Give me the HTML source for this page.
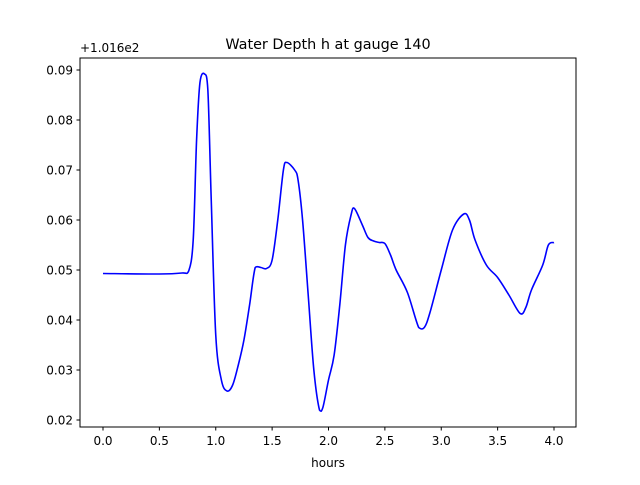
<!DOCTYPE html>
<html><head><meta charset="utf-8"><style>
body{margin:0;background:#fff;}
svg{font-family:"DejaVu Sans","Liberation Sans",sans-serif;}
</style></head><body>
<svg id="chart" width="640" height="480" viewBox="0 0 640 480">
<rect width="640" height="480" fill="#fff"/>
<text x="328" y="49" font-size="14.4" text-anchor="middle">Water Depth h at gauge 140</text>
<text x="80" y="52" font-size="12">+1.016e2</text>
<text x="328" y="467" font-size="12" text-anchor="middle">hours</text>
<g id="ticks"></g>
<path id="line" fill="none" stroke="#0000ff" stroke-width="1.6"/>
<rect x="80" y="58" width="496" height="369" fill="none" stroke="#000" stroke-width="1"/>
</svg>
<script>
const xTicks=[0,0.5,1,1.5,2,2.5,3,3.5,4];
const xTickLabels=["0.0","0.5","1.0","1.5","2.0","2.5","3.0","3.5","4.0"];
const yTicks=[0.02,0.03,0.04,0.05,0.06,0.07,0.08,0.09];
const yTickLabels=["0.02","0.03","0.04","0.05","0.06","0.07","0.08","0.09"];
const hours=[0,0.5,0.7,0.76,0.8,0.83,0.86,0.9,0.93,0.96,1.0,1.05,1.1,1.15,1.2,1.25,1.3,1.35,1.4,1.45,1.5,1.55,1.6,1.63,1.7,1.73,1.77,1.82,1.87,1.92,1.95,2.0,2.05,2.1,2.15,2.2,2.23,2.3,2.35,2.4,2.45,2.5,2.55,2.6,2.7,2.8,2.85,2.9,3.0,3.1,3.2,3.25,3.3,3.4,3.5,3.6,3.7,3.75,3.8,3.9,3.95,4.0];
const depth=[0.0493,0.0492,0.0494,0.0498,0.056,0.076,0.0875,0.0892,0.086,0.064,0.037,0.028,0.0258,0.027,0.031,0.036,0.043,0.0505,0.0505,0.0503,0.052,0.060,0.070,0.0715,0.070,0.068,0.060,0.045,0.030,0.022,0.0225,0.028,0.033,0.043,0.055,0.061,0.0623,0.059,0.0565,0.0558,0.0555,0.0553,0.053,0.050,0.0455,0.0385,0.0385,0.0415,0.050,0.058,0.0612,0.060,0.056,0.051,0.0485,0.045,0.0413,0.0425,0.046,0.051,0.055,0.0555];
const X=v=>103+v*112.75;
const Y=v=>420-(v-0.02)*5000;
const NS="http://www.w3.org/2000/svg";
const g=document.getElementById('ticks');
function mk(tag,attrs){const e=document.createElementNS(NS,tag);for(const k in attrs)e.setAttribute(k,attrs[k]);return e;}
xTicks.forEach((t,i)=>{
 const l=mk('line',{x1:X(t),x2:X(t),y1:427,y2:430.5,stroke:'#000'});
 
 
 g.appendChild(l);
 const tx=mk('text',{x:X(t),y:445,'font-size':12,'text-anchor':'middle'});
 tx.textContent=xTickLabels[i];
 
 
 g.appendChild(tx);
});
yTicks.forEach((t,i)=>{
 const l=mk('line',{x1:76.5,x2:80,y1:Y(t),y2:Y(t),stroke:'#000'});
 
 
 g.appendChild(l);
 const tx=mk('text',{x:73,y:Y(t)+4.5,'font-size':12,'text-anchor':'end'});
 tx.textContent=yTickLabels[i];
 
 
 g.appendChild(tx);
});
// Monotone-ish Catmull-Rom: clamp control points to segment y-range to avoid overshoot between steep points
const pts=hours.map((h,i)=>[X(h),Y(depth[i])]);
let d='M'+pts[0][0]+','+pts[0][1];
for(let i=0;i<pts.length-1;i++){
 const p0=pts[Math.max(0,i-1)],p1=pts[i],p2=pts[i+1],p3=pts[Math.min(pts.length-1,i+2)];
 let c1=[p1[0]+(p2[0]-p0[0])/6,p1[1]+(p2[1]-p0[1])/6];
 let c2=[p2[0]-(p3[0]-p1[0])/6,p2[1]-(p3[1]-p1[1])/6];
 const lo=Math.min(p1[1],p2[1])-2,hi=Math.max(p1[1],p2[1])+2;
 c1[1]=Math.min(hi,Math.max(lo,c1[1]));c2[1]=Math.min(hi,Math.max(lo,c2[1]));
 d+=' C'+c1.join(',')+' '+c2.join(',')+' '+p2.join(',');
}
document.getElementById('line').setAttribute('d',d);
</script>
</body></html>
